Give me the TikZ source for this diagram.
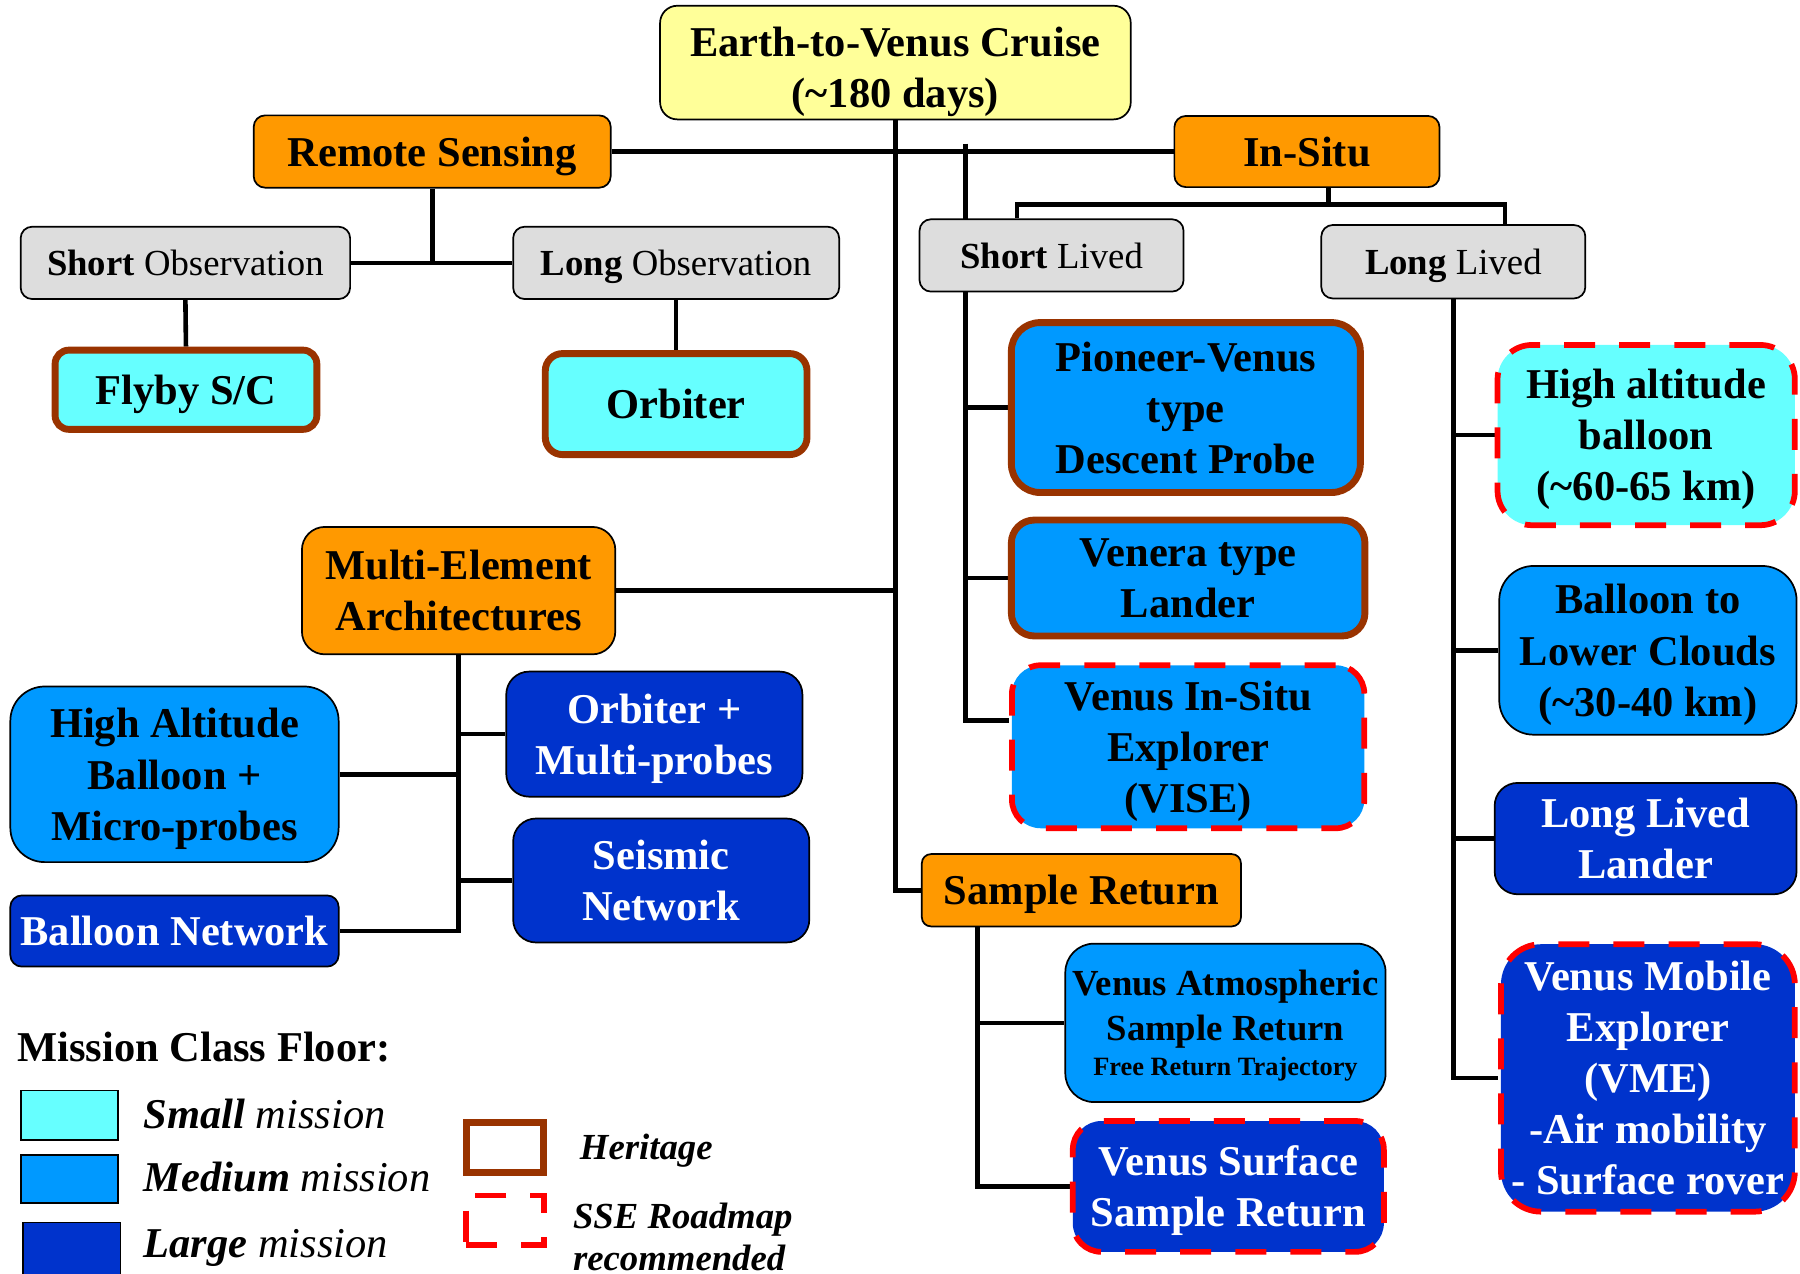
\documentclass[tikz,border=0pt]{standalone}
\usepackage{fontspec}
\setmainfont{Liberation Serif}
\usetikzlibrary{calc}
\definecolor{cyellow}{HTML}{FFFF99}
\definecolor{corange}{HTML}{FF9900}
\definecolor{cgray}{HTML}{DDDDDD}
\definecolor{ccyan}{HTML}{66FFFF}
\definecolor{cmed}{HTML}{0099FF}
\definecolor{cdark}{HTML}{0033CC}
\definecolor{cbrown}{HTML}{993300}
\definecolor{cred}{HTML}{FF0000}
\pgfdeclarelayer{bg}
\pgfsetlayers{bg,main}
\begin{document}
\begin{tikzpicture}[x=1pt,y=-1pt,
  box/.style={draw=black,line width=1.5pt,align=center,inner sep=0pt,text depth=-4pt,font=\fontsize{37}{44.5}\selectfont\bfseries},
  sz/.style n args={2}{minimum width=#1pt,minimum height=#2pt},
  yel/.style={box,fill=cyellow},
  ora/.style={box,fill=corange},
  gry/.style={box,fill=cgray,font=\fontsize{32}{38}\selectfont},
  cya/.style={box,fill=ccyan},
  med/.style={box,fill=cmed},
  drk/.style={box,fill=cdark,text=white},
  herit/.style={draw=cbrown,line width=6pt},
  sse/.style={draw=cred,line width=5pt,dash pattern=on 27pt off 21pt},
  conn/.style={line width=4pt},
  leg/.style={anchor=base west,inner sep=0pt,font=\fontsize{37}{44}\selectfont},
  legs/.style={anchor=base west,inner sep=0pt,font=\fontsize{32}{38}\selectfont\bfseries\itshape},
  swatch/.style={draw=black,line width=1.5pt,inner sep=0pt}
]
\useasboundingbox (0,0) rectangle (1568,1109);

% top level
\node[yel,rounded corners=15pt,sz={410}{99},text height=78pt] (earth) at (780,54.5) {Earth-to-Venus Cruise\\(\textasciitilde180 days)};
\node[ora,rounded corners=10pt,sz={311}{63}] (rs) at (376.5,132) {Remote Sensing};
\node[ora,rounded corners=10pt,sz={231}{62}] (insitu) at (1138.5,132) {In-Situ};

% remote sensing
\node[gry,rounded corners=10pt,sz={287}{63}] (so) at (161.5,229) {\textbf{Short} Observation};
\node[gry,rounded corners=10pt,sz={284}{63}] (lo) at (589,229) {\textbf{Long} Observation};
\node[cya,herit,rounded corners=12pt,sz={228}{69}] (flyby) at (162,339.5) {Flyby S/C};
\node[cya,herit,rounded corners=15pt,sz={228}{88}] (orb) at (589,352) {Orbiter};

% in-situ
\node[gry,rounded corners=10pt,sz={230}{63}] (sl) at (916,222.5) {\textbf{Short} Lived};
\node[gry,rounded corners=10pt,sz={230}{64}] (ll) at (1266,228) {\textbf{Long} Lived};
\node[med,herit,rounded corners=25pt,sz={304}{148}] (pion) at (1033,355) {Pioneer-Venus\\type\\Descent Probe};
\node[med,herit,rounded corners=20pt,sz={308}{101}] (ven) at (1035,503.5) {Venera type\\Lander};
\node[med,sse,rounded corners=25pt,sz={307}{142}] (vise) at (1035,650.5) {Venus In-Situ\\Explorer\\(VISE)};
\node[cya,sse,rounded corners=30pt,sz={259}{157}] (hab2) at (1434,379) {High altitude\\balloon\\(\textasciitilde60-65 km)};
\node[med,rounded corners=30pt,sz={259}{147}] (blc) at (1435.5,566.5) {Balloon to\\Lower Clouds\\(\textasciitilde30-40 km)};
\node[drk,rounded corners=20pt,sz={263}{97}] (lll) at (1433.5,730.5) {Long Lived\\Lander};
\node[drk,sse,rounded corners=35pt,sz={256}{233}] (vme) at (1435.5,939) {Venus Mobile\\Explorer\\(VME)\\-Air mobility\\- Surface rover};

% multi-element
\node[ora,rounded corners=20pt,sz={273}{111}] (mea) at (399.5,514.5) {Multi-Element\\Architectures};
\node[drk,rounded corners=20pt,sz={258}{109}] (om) at (570,639.5) {Orbiter +\\Multi-probes};
\node[med,rounded corners=30pt,sz={286}{153}] (hab) at (152,674.5) {High Altitude\\Balloon +\\Micro-probes};
\node[drk,rounded corners=20pt,sz={258}{108}] (sn) at (576,767) {Seismic\\Network};
\node[drk,rounded corners=10pt,sz={286}{62}] (bn) at (152,811) {Balloon Network};

% sample return
\node[ora,rounded corners=8pt,sz={278}{63}] (sr) at (942,775.5) {Sample Return};
\node[med,rounded corners=25pt,sz={279}{138},font=\fontsize{32}{39}\selectfont\bfseries] (vas) at (1067.5,891) {Venus Atmospheric\\Sample Return\\[-9pt]{\fontsize{23}{28}\selectfont Free Return Trajectory}};
\node[drk,sse,rounded corners=25pt,sz={271}{114}] (vss) at (1070,1033.5) {Venus Surface\\Sample Return};

% legend
\node[leg,font=\fontsize{37}{44}\selectfont\bfseries] (mcf) at (15,925) {Mission Class Floor:};
\node[swatch,fill=ccyan,sz={85}{43}] (swsmall) at (60.5,971.5) {};
\node[leg] (txsmall) at (125,983) {\textbf{\textit{Small}} \textit{mission}};
\node[swatch,fill=cmed,sz={85}{42}] (swmed) at (60.5,1027) {};
\node[leg] (txmed) at (125,1038) {\textbf{\textit{Medium}} \textit{mission}};
\node[swatch,fill=cdark,sz={85}{46}] (swlarge) at (62.5,1088) {};
\node[leg] (txlarge) at (125,1095) {\textbf{\textit{Large}} \textit{mission}};
\node[herit,inner sep=0pt,sz={67}{43}] (swher) at (440,999.5) {};
\node[legs] (txher) at (505,1010) {Heritage};
\node[sse,inner sep=0pt,sz={68}{43}] (swsse) at (440,1063) {};
\node[legs] (txsse) at (499,1070) {SSE Roadmap};
\node[legs] (txsse2) at (499,1107) {recommended};

% connectors
\begin{pgfonlayer}{bg}
\draw[conn] (earth.south) |- (sr.west);
\draw[conn] (rs.east) -- (insitu.west);
\draw[conn] (mea.east) -- (mea.east -| earth.south);
\coordinate (slbus) at (841,125);
\draw[conn] (slbus) |- ($(vise.west)+(0,-23)$);
\draw[conn] (pion.west -| slbus) -- (pion.west);
\draw[conn] (ven.west -| slbus) -- (ven.west);
\coordinate (isj) at (1157,178);
\draw[conn] (isj |- insitu.south) -- (isj);
\draw[conn] ($(sl.north)+(-30,0)$) |- (isj) -| ($(ll.north)+(45,0)$);
\draw[conn] (ll.south) |- (vme.west);
\draw[conn] (hab2.west -| ll.south) -- (hab2.west);
\draw[conn] (blc.west -| ll.south) -- (blc.west);
\draw[conn] (lll.west -| ll.south) -- (lll.west);
\draw[conn] (rs.south) -- (rs.south |- so.east);
\draw[conn] (so.east) -- (lo.west);
\draw[conn] (so.south) -- (flyby.north);
\draw[conn] (lo.south) -- (orb.north);
\draw[conn] (mea.south) |- (bn.east);
\draw[conn] (om.west -| mea.south) -- (om.west);
\draw[conn] (hab.east) -- (hab.east -| mea.south);
\draw[conn] (sn.west -| mea.south) -- (sn.west);
\coordinate (srbus) at ($(sr.south west)+(49,0)$);
\draw[conn] (srbus) |- (vss.west);
\draw[conn] (vas.west -| srbus) -- (vas.west);
\end{pgfonlayer}
\end{tikzpicture}
\end{document}
